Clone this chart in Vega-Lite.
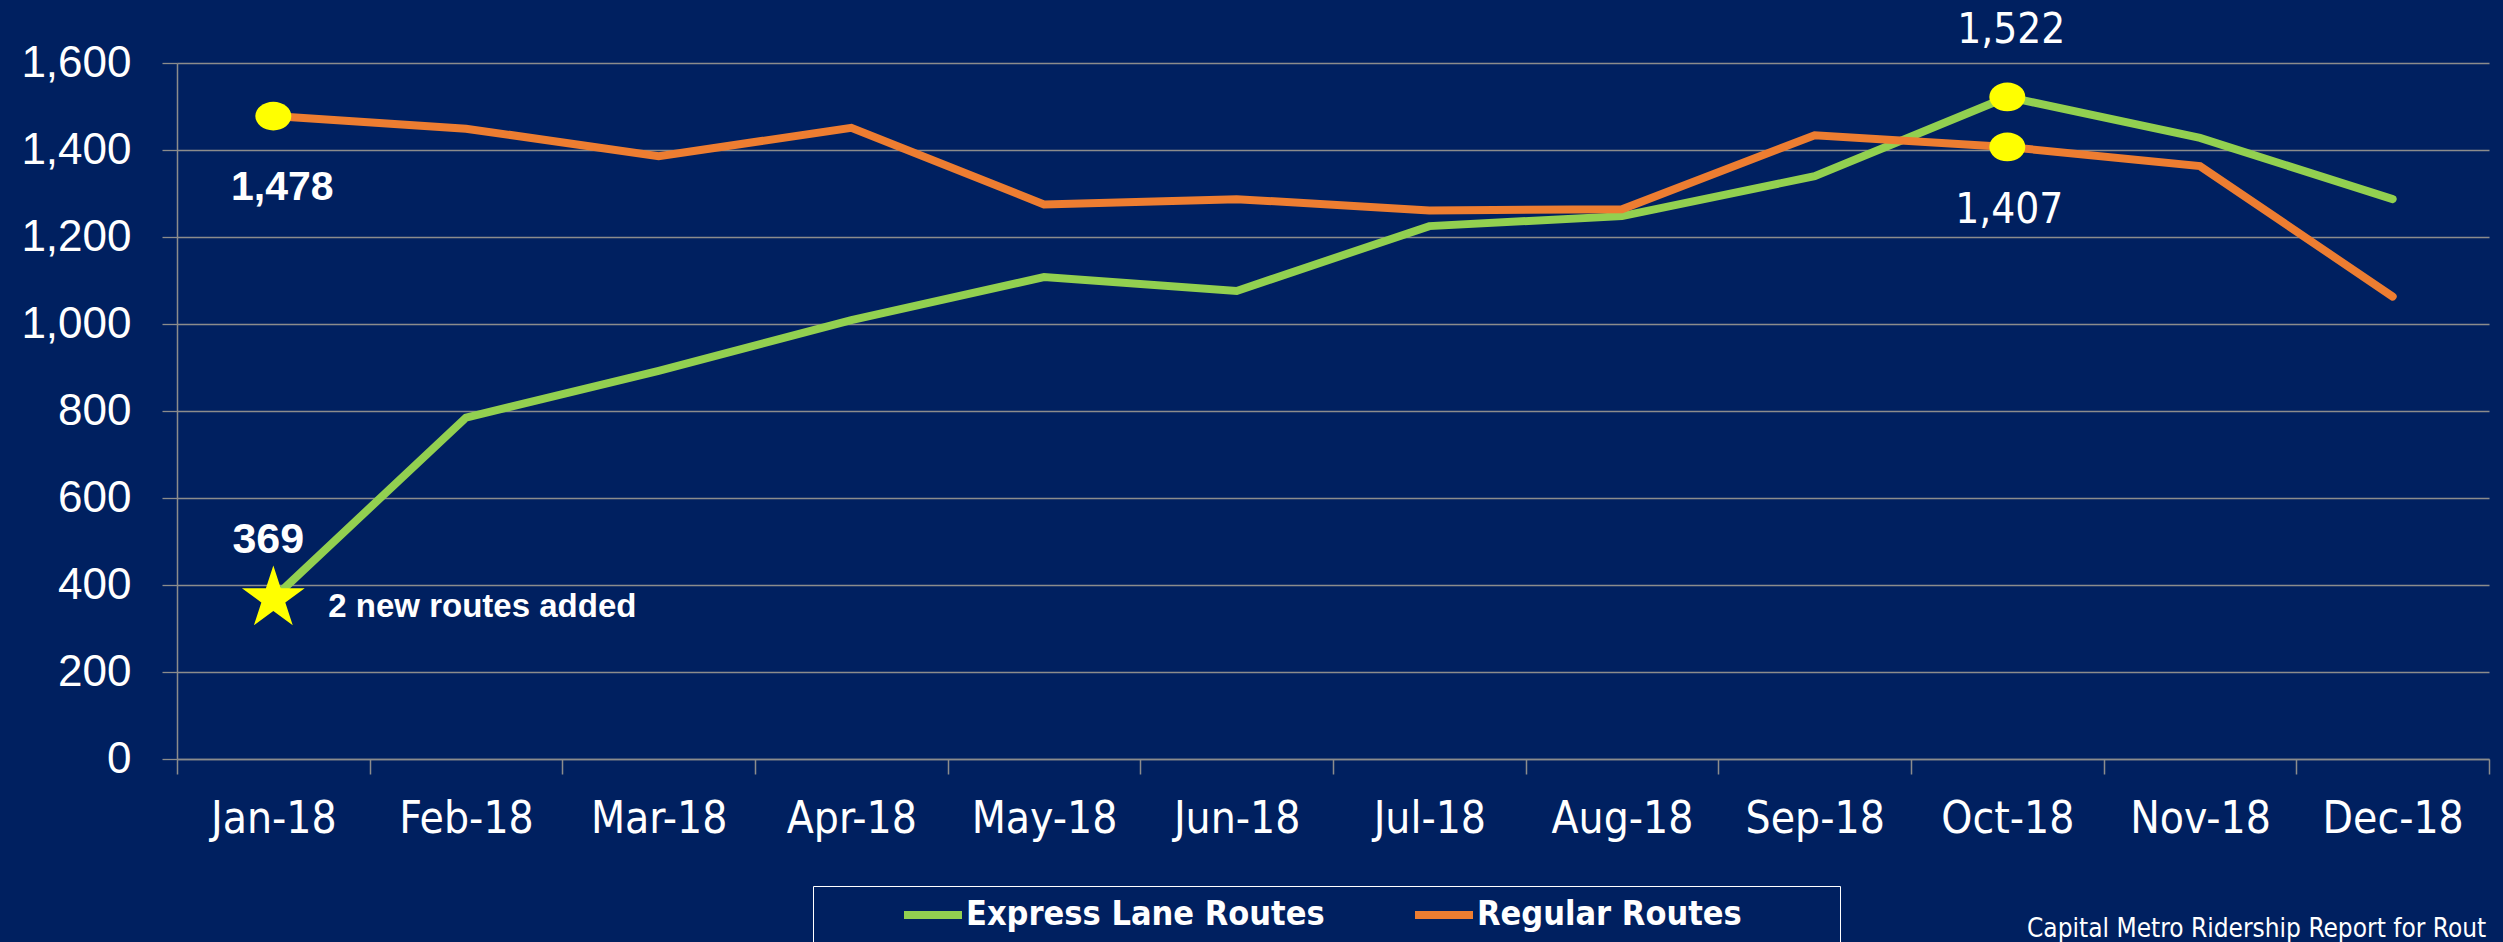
{
  "$schema": "https://vega.github.io/schema/vega-lite/v6.json",
  "autosize": {"type": "none"},
  "width": 2312,
  "height": 696,
  "padding": {"left": 177, "top": 63, "right": 14, "bottom": 183},
  "background": "#002060",
  "config": {
    "view": {"stroke": null},
    "font": "Liberation Sans"
  },
  "title": {
    "text": "Capital Metro Ridership Report for Rout",
    "orient": "bottom",
    "anchor": "start",
    "frame": "group",
    "dx": 1850,
    "offset": -29,
    "font": "'DejaVu Sans Condensed', 'DejaVu Sans'",
    "fontSize": 26,
    "fontWeight": "normal",
    "color": "#ffffff",
    "baseline": "top"
  },
  "datasets": {
    "ridership": [
      {"month": "Jan-18", "series": "Express Lane Routes", "value": 369},
      {"month": "Feb-18", "series": "Express Lane Routes", "value": 785},
      {"month": "Mar-18", "series": "Express Lane Routes", "value": 892},
      {"month": "Apr-18", "series": "Express Lane Routes", "value": 1009},
      {"month": "May-18", "series": "Express Lane Routes", "value": 1108},
      {"month": "Jun-18", "series": "Express Lane Routes", "value": 1076},
      {"month": "Jul-18", "series": "Express Lane Routes", "value": 1225},
      {"month": "Aug-18", "series": "Express Lane Routes", "value": 1248},
      {"month": "Sep-18", "series": "Express Lane Routes", "value": 1340},
      {"month": "Oct-18", "series": "Express Lane Routes", "value": 1522},
      {"month": "Nov-18", "series": "Express Lane Routes", "value": 1428},
      {"month": "Dec-18", "series": "Express Lane Routes", "value": 1287},
      {"month": "Jan-18", "series": "Regular Routes", "value": 1478},
      {"month": "Feb-18", "series": "Regular Routes", "value": 1449},
      {"month": "Mar-18", "series": "Regular Routes", "value": 1386},
      {"month": "Apr-18", "series": "Regular Routes", "value": 1451},
      {"month": "May-18", "series": "Regular Routes", "value": 1275},
      {"month": "Jun-18", "series": "Regular Routes", "value": 1287},
      {"month": "Jul-18", "series": "Regular Routes", "value": 1261},
      {"month": "Aug-18", "series": "Regular Routes", "value": 1264},
      {"month": "Sep-18", "series": "Regular Routes", "value": 1434},
      {"month": "Oct-18", "series": "Regular Routes", "value": 1407},
      {"month": "Nov-18", "series": "Regular Routes", "value": 1363},
      {"month": "Dec-18", "series": "Regular Routes", "value": 1063}
    ],
    "callouts": [
      {"month": "Jan-18", "value": 1478, "marker": "dot", "label": "1,478"},
      {"month": "Jan-18", "value": 369, "marker": "star", "label": "369"},
      {"month": "Jan-18", "value": 369, "marker": "none", "label": "2 new routes added"},
      {"month": "Oct-18", "value": 1522, "marker": "dot", "label": "1,522"},
      {"month": "Oct-18", "value": 1407, "marker": "dot", "label": "1,407"}
    ]
  },
  "encoding": {
    "x": {
      "field": "month",
      "type": "ordinal",
      "sort": ["Jan-18", "Feb-18", "Mar-18", "Apr-18", "May-18", "Jun-18", "Jul-18", "Aug-18", "Sep-18", "Oct-18", "Nov-18", "Dec-18"],
      "scale": {"type": "band", "paddingInner": 0, "paddingOuter": 0},
      "axis": {
        "title": null,
        "tickBand": "extent",
        "grid": false,
        "labelAngle": 0,
        "domainColor": "#8c8c8c",
        "domainWidth": 1.5,
        "tickColor": "#8c8c8c",
        "tickWidth": 1.5,
        "tickSize": 15,
        "labelFont": "'DejaVu Sans Condensed', 'DejaVu Sans'",
        "labelFontSize": 44,
        "labelColor": "#ffffff",
        "labelPadding": 23
      }
    },
    "y": {
      "field": "value",
      "type": "quantitative",
      "scale": {"domain": [0, 1600], "nice": false},
      "axis": {
        "title": null,
        "values": [0, 200, 400, 600, 800, 1000, 1200, 1400, 1600],
        "format": ",.0f",
        "grid": true,
        "gridColor": "#8c8c8c",
        "gridWidth": 1.3,
        "domainColor": "#8c8c8c",
        "domainWidth": 1.5,
        "tickColor": "#8c8c8c",
        "tickWidth": 1.3,
        "tickSize": 15,
        "labelFont": "Liberation Sans",
        "labelFontSize": 44,
        "labelColor": "#ffffff",
        "labelPadding": 31
      }
    }
  },
  "layer": [
    {
      "data": {"name": "ridership"},
      "mark": {"type": "line", "strokeWidth": 8, "strokeCap": "round"},
      "encoding": {
        "color": {
          "field": "series",
          "type": "nominal",
          "scale": {"domain": ["Express Lane Routes", "Regular Routes"], "range": ["#92D050", "#ED7D31"]},
          "legend": {
            "title": "\u00a0",
            "titleOrient": "right",
            "titleFontSize": 10,
            "titlePadding": 90,
            "orient": "none",
            "legendX": 636,
            "legendY": 823,
            "direction": "horizontal",
            "strokeColor": "#ffffff",
            "padding": 8,
            "clipHeight": 42,
            "symbolType": "stroke",
            "symbolStrokeWidth": 8,
            "symbolSize": 3364,
            "symbolOffset": 79,
            "labelOffset": 0,
            "labelLimit": 800,
            "columnPadding": 7,
            "labelFont": "'DejaVu Sans Condensed', 'DejaVu Sans'",
            "labelFontSize": 34,
            "labelFontWeight": "bold",
            "labelColor": "#ffffff"
          }
        }
      }
    },
    {
      "data": {"name": "callouts"},
      "transform": [{"filter": "datum.marker === 'dot'"}],
      "mark": {"type": "point", "shape": "M-1,0A1,0.8,0,1,0,1,0A1,0.8,0,1,0,-1,0Z", "filled": true, "fill": "#FFFF00", "opacity": 1, "size": 1296}
    },
    {
      "data": {"name": "callouts"},
      "transform": [{"filter": "datum.marker === 'star'"}],
      "mark": {"type": "point", "shape": "M0,-1L0.2245,-0.309L0.951,-0.309L0.363,0.118L0.588,0.809L0,0.382L-0.588,0.809L-0.363,0.118L-0.951,-0.309L-0.2245,-0.309Z", "filled": true, "fill": "#FFFF00", "opacity": 1, "size": 4356}
    },
    {
      "data": {"name": "callouts"},
      "transform": [{"filter": "datum.label === '1,478'"}],
      "mark": {"type": "text", "color": "#ffffff", "font": "Liberation Sans", "fontWeight": "bold", "fontSize": 41, "baseline": "middle", "align": "center", "dx": 9, "dy": 72},
      "encoding": {"text": {"field": "label"}}
    },
    {
      "data": {"name": "callouts"},
      "transform": [{"filter": "datum.label === '369'"}],
      "mark": {"type": "text", "color": "#ffffff", "font": "Liberation Sans", "fontWeight": "bold", "fontSize": 43, "baseline": "middle", "align": "center", "dx": -5, "dy": -58},
      "encoding": {"text": {"field": "label"}}
    },
    {
      "data": {"name": "callouts"},
      "transform": [{"filter": "datum.label === '2 new routes added'"}],
      "mark": {"type": "text", "color": "#ffffff", "font": "Liberation Sans", "fontWeight": "bold", "fontSize": 33, "baseline": "alphabetic", "align": "left", "dx": 55, "dy": 19},
      "encoding": {"text": {"field": "label"}}
    },
    {
      "data": {"name": "callouts"},
      "transform": [{"filter": "datum.label === '1,522'"}],
      "mark": {"type": "text", "color": "#ffffff", "font": "'DejaVu Sans Condensed', 'DejaVu Sans'", "fontSize": 42, "baseline": "middle", "align": "center", "dx": 4, "dy": -67},
      "encoding": {"text": {"field": "label"}}
    },
    {
      "data": {"name": "callouts"},
      "transform": [{"filter": "datum.label === '1,407'"}],
      "mark": {"type": "text", "color": "#ffffff", "font": "'DejaVu Sans Condensed', 'DejaVu Sans'", "fontSize": 42, "baseline": "middle", "align": "center", "dx": 2, "dy": 63},
      "encoding": {"text": {"field": "label"}}
    }
  ]
}
